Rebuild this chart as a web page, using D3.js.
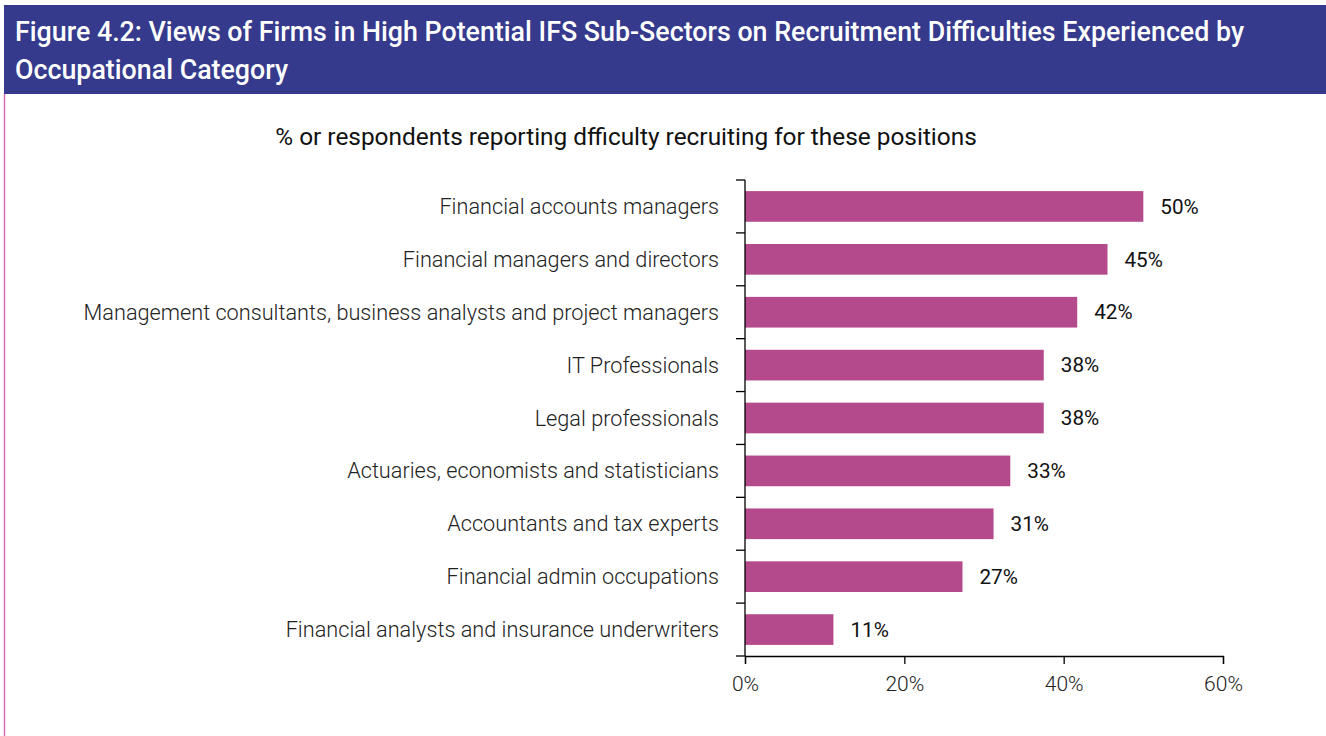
<!DOCTYPE html>
<html>
<head>
<meta charset="utf-8">
<script src="https://cdn.jsdelivr.net/npm/d3@7.9.0/dist/d3.min.js"></script>
<style>
  body { margin: 0; background: #fff; }
  svg { display: block; font-family: Roboto, sans-serif; }
</style>
</head>
<body>
<svg width="1326" height="736"></svg>
<script>
// data
const categories = [
  'Financial accounts managers',
  'Financial managers and directors',
  'Management consultants, business analysts and project managers',
  'IT Professionals',
  'Legal professionals',
  'Actuaries, economists and statisticians',
  'Accountants and tax experts',
  'Financial admin occupations',
  'Financial analysts and insurance underwriters'
];
const values = [50, 45.5, 41.7, 37.5, 37.5, 33.3, 31.2, 27.3, 11.1];
const valueLabels = ['50%', '45%', '42%', '38%', '38%', '33%', '31%', '27%', '11%'];
const xTicks = [0, 20, 40, 60];

const titleLines = [
  'Figure 4.2: Views of Firms in High Potential IFS Sub-Sectors on Recruitment Difficulties Experienced by',
  'Occupational Category'
];
const subtitle = '% or respondents reporting dfficulty recruiting for these positions';

const svg = d3.select('svg');

// header band
svg.append('rect')
  .attr('x', 4).attr('y', 5).attr('width', 1322).attr('height', 89)
  .attr('fill', '#353a8d');
svg.append('line')
  .attr('x1', 4.5).attr('x2', 4.5).attr('y1', 94).attr('y2', 736)
  .attr('stroke', '#d36bb0').attr('stroke-width', 1.5);

svg.append('g').selectAll('text')
  .data(titleLines)
  .join('text')
  .attr('x', 15)
  .attr('y', (d, i) => 41 + i * 38)
  .attr('fill', '#fff')
  .attr('font-size', 26.8)
  .attr('font-weight', 500)
  .text(d => d);

svg.append('text')
  .attr('x', 626).attr('y', 145)
  .attr('text-anchor', 'middle')
  .attr('font-size', 24.4)
  .attr('fill', '#111')
  .text(subtitle);

const x = d3.scaleLinear().domain([0, 60]).range([745, 1223]);
const y = d3.scaleBand().domain(categories).range([180, 656]).paddingInner(0.42).paddingOuter(0.21);

// bars
svg.append('g').selectAll('rect')
  .data(values)
  .join('rect')
  .attr('x', x(0))
  .attr('y', (d, i) => y(categories[i]))
  .attr('width', d => x(d) - x(0))
  .attr('height', y.bandwidth())
  .attr('fill', '#b44a8b');

// value labels
svg.append('g').selectAll('text')
  .data(values)
  .join('text')
  .attr('x', d => x(d) + 17)
  .attr('y', (d, i) => y(categories[i]) + y.bandwidth() / 2)
  .attr('dy', '0.35em')
  .attr('font-size', 20.7)
  .attr('fill', '#111')
  .text((d, i) => valueLabels[i]);

// category labels
svg.append('g').selectAll('text')
  .data(categories)
  .join('text')
  .attr('x', 719)
  .attr('y', d => y(d) + y.bandwidth() / 2)
  .attr('dy', '0.35em')
  .attr('text-anchor', 'end')
  .attr('font-size', 21.7)
  .attr('font-weight', 300)
  .attr('fill', '#222')
  .text(d => d);

// y axis: line plus ticks at band boundaries
const step = (656 - 180) / categories.length;
const yAxis = svg.append('g');
yAxis.append('line')
  .attr('x1', 745).attr('x2', 745).attr('y1', 180).attr('y2', 656)
  .attr('stroke', '#000').attr('stroke-width', 1.3);
yAxis.selectAll('.yt')
  .data(d3.range(categories.length + 1))
  .join('line')
  .attr('class', 'yt')
  .attr('x1', 736).attr('x2', 745)
  .attr('y1', i => 180 + i * step).attr('y2', i => 180 + i * step)
  .attr('stroke', '#000').attr('stroke-width', 1.3);

// x axis
const xAxis = svg.append('g').attr('transform', 'translate(0,656)')
  .call(d3.axisBottom(x).tickValues(xTicks).tickSize(8).tickPadding(12).tickFormat(d => d + '%'));
xAxis.select('.domain').attr('stroke', '#000').attr('stroke-width', 1.3);
xAxis.selectAll('.tick line').attr('stroke', '#000').attr('stroke-width', 1.3);
xAxis.selectAll('text')
  .attr('font-family', 'Roboto, sans-serif')
  .attr('font-size', 21)
  .attr('font-weight', 300)
  .attr('fill', '#222');
</script>
</body>
</html>
